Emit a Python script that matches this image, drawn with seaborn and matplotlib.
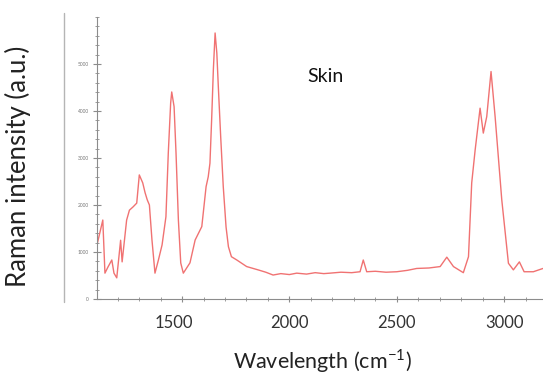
import matplotlib
matplotlib.use("Agg")
import matplotlib.pyplot as plt
import matplotlib.transforms as mtransforms
import seaborn as sns
import pandas as pd
from matplotlib.lines import Line2D
from matplotlib.ticker import MultipleLocator

sns.set_style("ticks")
plt.rcParams['font.family'] = ['Lato', 'DejaVu Sans']

# Raman shift (cm^-1) and intensity (a.u.)
wavenumber = [1104, 1131, 1141, 1155, 1173, 1183, 1196, 1214, 1221, 1242, 1255, 1272,
              1289, 1301, 1317, 1328, 1338, 1348, 1360, 1374, 1390, 1407, 1425, 1436,
              1447, 1452, 1463, 1472, 1483, 1494, 1506, 1537, 1561, 1592, 1612, 1622,
              1630, 1638, 1646, 1654, 1662, 1669, 1680, 1692, 1705, 1716, 1730, 1755,
              1801, 1854, 1890, 1924, 1960, 2000, 2034, 2080, 2120, 2160, 2189, 2240,
              2290, 2329, 2344, 2360, 2400, 2450, 2500, 2550, 2593, 2650, 2702, 2733,
              2764, 2810, 2834, 2849, 2865, 2888, 2903, 2919, 2939, 2958, 2989, 3020,
              3043, 3071, 3093, 3136, 3181, 3200]
intensity = [1150, 1680, 550, 680, 830, 550, 450, 1250, 790, 1680, 1890, 1960,
             2040, 2640, 2470, 2260, 2110, 2000, 1255, 550, 830, 1150, 1750, 3106,
             4170, 4405, 4092, 3106, 1680, 766, 550, 770, 1255, 1540, 2390, 2600,
             2890, 3830, 4894, 5660, 5234, 4517, 3454, 2390, 1532, 1113, 900, 830,
             690, 620, 570, 510, 540, 520, 550, 530, 560, 540, 550, 570,
             560, 580, 830, 580, 590, 570, 580, 610, 650, 660, 690, 890,
             690, 560, 900, 2470, 3170, 4060, 3530, 3880, 4840, 3880, 2110, 760,
             620, 790, 580, 580, 650, 620]

label_ticks = [1500, 2000, 2500, 3000]
y_ticks = [0, 1000, 2000, 3000, 4000, 5000]

df = pd.DataFrame({"wavenumber": wavenumber, "intensity": intensity})

fig = plt.figure(figsize=(5.43, 3.77), dpi=100)
ax = fig.add_axes([97/543, 1 - 299/377, 1 - 97/543, (299 - 17)/377])

sns.lineplot(data=df, x="wavenumber", y="intensity", ax=ax,
             color="#f07272", linewidth=1.0)

ax.set_xlim(1104, 3181)
ax.set_ylim(0, 6000)
sns.despine(ax=ax, top=True, right=True)
for s in ("left", "bottom"):
    ax.spines[s].set_color("#8c8c8c")
    ax.spines[s].set_linewidth(0.8)

ax.set_xticks(label_ticks)
ax.set_xticklabels([str(t) for t in label_ticks], fontsize=12, color="#333333")
ax.xaxis.set_minor_locator(MultipleLocator(100))
ax.set_yticks(y_ticks)
ax.set_yticklabels([str(t) for t in y_ticks], fontsize=3.5, color="#777777")
ax.yaxis.set_minor_locator(MultipleLocator(200))

ax.tick_params(axis="x", which="major", direction="inout", length=5, width=0.8,
               color="#8c8c8c", pad=9)
ax.tick_params(axis="x", which="minor", direction="inout", length=3, width=0.6,
               color="#8c8c8c")
ax.tick_params(axis="y", which="major", direction="inout", length=6, width=0.8,
               color="#8c8c8c", pad=3)
ax.tick_params(axis="y", which="minor", direction="inout", length=3, width=0.6,
               color="#8c8c8c")

# the first outer label sits a little left of its tick in the reference
lbl = ax.get_xticklabels()[0]
lbl.set_transform(lbl.get_transform() +
                  mtransforms.ScaledTranslation(-8/100, 0, fig.dpi_scale_trans))

ax.set_xlabel("")
ax.set_ylabel("")
fig.text(322/543, 1 - 361/377, "Wavelength (cm$^{\\mathregular{-1}}$)",
         ha="center", va="center", fontsize=15.5, color="#222222")
fig.text(18/543, 1 - 166/377, "Raman intensity (a.u.)", rotation=90,
         ha="center", va="center", fontsize=18.5, color="#222222")
fig.text(325/543, 1 - 77/377, "Skin", ha="center", va="center",
         fontsize=14, color="#111111")

fig.add_artist(Line2D([64/543, 64/543], [1 - 302/377, 1 - 13/377],
                      transform=fig.transFigure, color="#b5b5b5", linewidth=1.0))

fig.savefig("out.png", dpi=100)
